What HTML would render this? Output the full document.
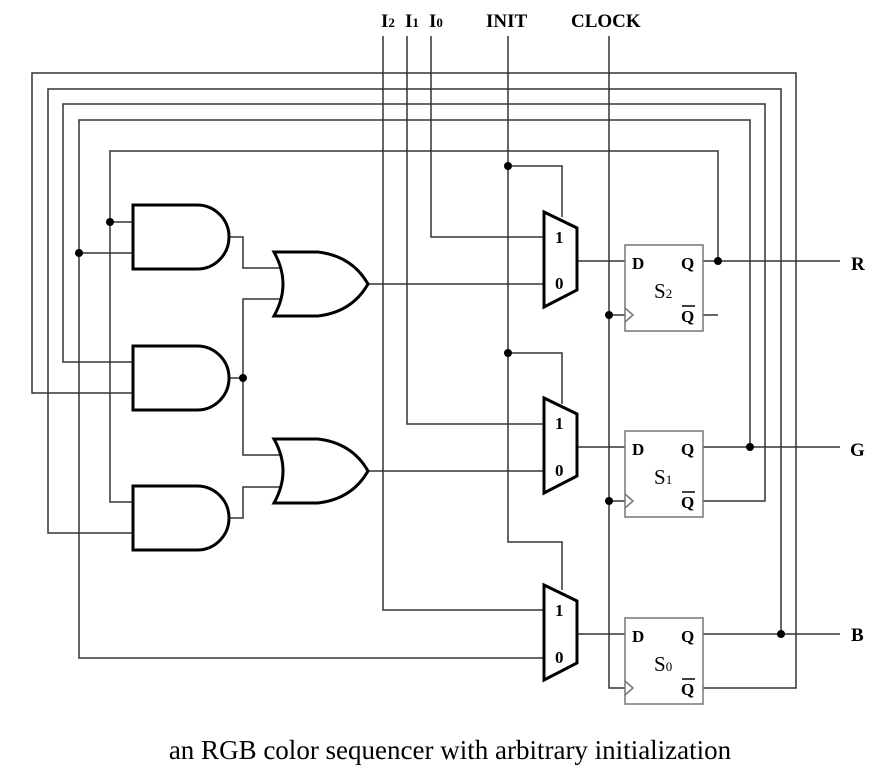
<!DOCTYPE html>
<html><head><meta charset="utf-8"><style>
html,body{margin:0;padding:0;background:#fff;}
svg{display:block;}
text{font-family:"Liberation Serif",serif;fill:#000;}
.b{font-weight:bold;}
</style></head><body>
<svg width="895" height="778" viewBox="0 0 895 778" xmlns="http://www.w3.org/2000/svg">
<g fill="none" stroke="#333" stroke-width="1.5">
<polyline points="133,393 32,393 32,73 796,73 796,688 703,688"/>
<polyline points="133,533 48,533 48,89 781,89 781,634"/>
<polyline points="133,362 63,362 63,104 765,104 765,501 703,501"/>
<polyline points="543,658 79,658 79,120 750,120 750,449"/>
<polyline points="133,502 110,502 110,151 718,151 718,263"/>
<line x1="79" y1="253" x2="133" y2="253"/>
<line x1="110" y1="222" x2="133" y2="222"/>
<polyline points="431,36 431,237 544,237"/>
<polyline points="407,36 407,424 544,424"/>
<polyline points="383,36 383,610 544,610"/>
<polyline points="508,36 508,542 562,542 562,590"/>
<polyline points="508,166 562,166 562,217"/>
<polyline points="508,353 562,353 562,404"/>
<polyline points="609,36 609,688 625,688"/>
<line x1="609" y1="315" x2="625" y2="315"/>
<line x1="609" y1="501" x2="625" y2="501"/>
<polyline points="229,237 243,237 243,268 280,268"/>
<polyline points="280,299 243,299 243,455 280,455"/>
<line x1="229" y1="378" x2="243" y2="378"/>
<polyline points="229,518 243,518 243,487 280,487"/>
<line x1="368" y1="284" x2="544" y2="284"/>
<line x1="368" y1="471" x2="544" y2="471"/>
<line x1="577" y1="261" x2="625" y2="261"/>
<line x1="577" y1="447" x2="625" y2="447"/>
<line x1="577" y1="634" x2="625" y2="634"/>
<line x1="703" y1="261" x2="840" y2="261"/>
<line x1="703" y1="447" x2="840" y2="447"/>
<line x1="703" y1="634" x2="840" y2="634"/>
<line x1="703" y1="315" x2="718" y2="315"/>
<rect x="625" y="245" width="78" height="86" stroke="#777"/>
<rect x="625" y="431" width="78" height="86" stroke="#777"/>
<rect x="625" y="618" width="78" height="86" stroke="#777"/>
<polyline points="625,308 633,315 625,322" stroke="#777"/>
<polyline points="625,494 633,501 625,508" stroke="#777"/>
<polyline points="625,681 633,688 625,695" stroke="#777"/>
</g>
<g fill="none" stroke="#000" stroke-width="3">
<path d="M133,205 H197 A32,32 0 0 1 197,269 H133 Z"/>
<path d="M133,346 H197 A32,32 0 0 1 197,410 H133 Z"/>
<path d="M133,486 H197 A32,32 0 0 1 197,550 H133 Z"/>
<path d="M274,252 H318 Q352,256 368,284 Q352,312 318,316 H274 Q292,284 274,252 Z"/>
<path d="M274,439 H318 Q352,443 368,471 Q352,499 318,503 H274 Q292,471 274,439 Z"/>
<path d="M544,212 L577,228 L577,290 L544,307 Z"/>
<path d="M544,398 L577,414 L577,476 L544,493 Z"/>
<path d="M544,585 L577,601 L577,663 L544,680 Z"/>
</g>
<g fill="#000">
<circle cx="110" cy="222" r="4"/><circle cx="79" cy="253" r="4"/>
<circle cx="243" cy="378" r="4"/>
<circle cx="508" cy="166" r="4"/><circle cx="508" cy="353" r="4"/>
<circle cx="609" cy="315" r="4"/><circle cx="609" cy="501" r="4"/>
<circle cx="718" cy="261" r="4"/><circle cx="750" cy="447" r="4"/><circle cx="781" cy="634" r="4"/>
</g>
<g font-size="19" class="b">
<text x="381" y="27" class="b">I<tspan font-size="13">2</tspan></text>
<text x="405" y="27" class="b">I<tspan font-size="13">1</tspan></text>
<text x="429" y="27" class="b">I<tspan font-size="13">0</tspan></text>
<text x="486" y="27" class="b">INIT</text>
<text x="571" y="27" class="b">CLOCK</text>
<text x="851" y="270" class="b">R</text>
<text x="850" y="456" class="b">G</text>
<text x="851" y="641" class="b">B</text>
</g>
<g font-size="17" class="b">
<text x="555" y="243" class="b">1</text><text x="555" y="289" class="b">0</text>
<text x="555" y="429" class="b">1</text><text x="555" y="476" class="b">0</text>
<text x="555" y="616" class="b">1</text><text x="555" y="663" class="b">0</text>
<text x="632" y="269" class="b">D</text><text x="681" y="269" class="b">Q</text><text x="681" y="322" class="b">Q</text>
<text x="632" y="455" class="b">D</text><text x="681" y="455" class="b">Q</text><text x="681" y="508" class="b">Q</text>
<text x="632" y="642" class="b">D</text><text x="681" y="642" class="b">Q</text><text x="681" y="695" class="b">Q</text>
</g>
<g stroke="#000" stroke-width="1.5">
<line x1="682" y1="306" x2="695" y2="306"/>
<line x1="682" y1="492" x2="695" y2="492"/>
<line x1="682" y1="679" x2="695" y2="679"/>
</g>
<g font-size="21">
<text x="654" y="298">S<tspan font-size="13">2</tspan></text>
<text x="654" y="484">S<tspan font-size="13">1</tspan></text>
<text x="654" y="671">S<tspan font-size="13">0</tspan></text>
</g>
<text x="450" y="759" font-size="27" text-anchor="middle">an RGB color sequencer with arbitrary initialization</text>
</svg>
</body></html>
